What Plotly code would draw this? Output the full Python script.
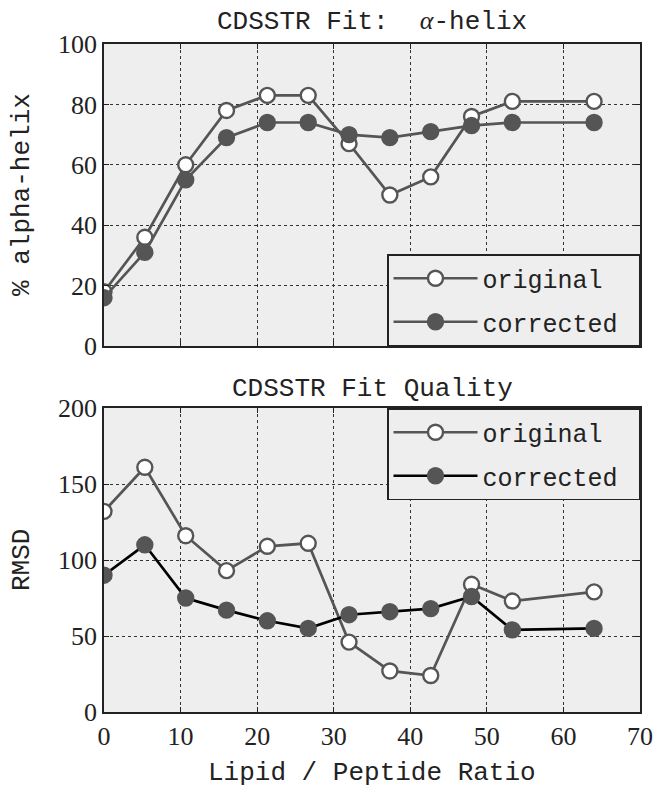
import plotly.graph_objects as go
from plotly.subplots import make_subplots

# ---- data ----
ratio = [0, 5.33, 10.67, 16, 21.33, 26.67, 32, 37.33, 42.67, 48, 53.33, 64]
helix_original = [18, 36, 60, 78, 83, 83, 67, 50, 56, 76, 81, 81]
helix_corrected = [16, 31, 55, 69, 74, 74, 70, 69, 71, 73, 74, 74]
rmsd_original = [132, 161, 116, 93, 109, 111, 46, 27, 24, 84, 73, 79]
rmsd_corrected = [90, 110, 75, 67, 60, 55, 64, 66, 68, 76, 54, 55]
x_ticks = [0, 10, 20, 30, 40, 50, 60, 70]
helix_ticks = [0, 20, 40, 60, 80, 100]
rmsd_ticks = [0, 50, 100, 150, 200]

GRAY = "#555555"
INK = "#222222"
MONO = "Liberation Mono"
SERIF = "Liberation Serif"

W, H = 653, 788
# target positions in window pixels
L_PIX, R_PIX, T_PIX, B_PIX = 104, 640, 44, 712
ML = L_PIX
MR = W - R_PIX
MT = T_PIX
MB = H - B_PIX
pw = W - ML - MR
ph = H - MT - MB

def py(pix):
    return (B_PIX - pix) / ph

def px(pix):
    return (pix - L_PIX) / pw

fig = make_subplots(rows=2, cols=1, vertical_spacing=0.0)

def add(x, y, name, row, line_color, fill, legend, group):
    fig.add_trace(go.Scatter(
        x=x, y=y, name=name, mode="lines+markers",
        line=dict(color=line_color, width=2.7),
        marker=dict(size=15, color=fill, line=dict(color=GRAY, width=2.4)),
        legend=legend, legendgroup=group, showlegend=True), row=row, col=1)

add(ratio, helix_original, "original", 1, GRAY, "white", "legend", "a1")
add(ratio, helix_corrected, "corrected\u00a0", 1, GRAY, GRAY, "legend", "a2")
add(ratio, rmsd_original, "original", 2, GRAY, "white", "legend2", "b1")
add(ratio, rmsd_corrected, "corrected\u00a0", 2, "black", GRAY, "legend2", "b2")

axis_common = dict(
    showline=True, linecolor=INK, linewidth=1.5, mirror="allticks",
    ticks="inside", ticklen=5, tickcolor=INK, automargin=False,
    showgrid=True, gridcolor="#333333", griddash="dot", gridwidth=1,
    zeroline=False, tickfont=dict(family=SERIF, size=26, color=INK),
)

fig.update_xaxes(axis_common)
fig.update_yaxes(axis_common)

legend_common = dict(
    bgcolor="#eeeeee", bordercolor=INK, borderwidth=1.5,
    font=dict(family=MONO, size=25, color=INK), itemwidth=84,
    tracegroupgap=8, xanchor="right", x=1,
)

title_font = dict(family=MONO, size=26, color=INK)

fig.update_layout(
    xaxis=dict(domain=[0, 1], range=[0, 70], tickvals=x_ticks, showticklabels=False),
    xaxis2=dict(domain=[0, 1], range=[0, 70], tickvals=x_ticks),
    yaxis=dict(domain=[py(346), py(44)], range=[0, 100], tickvals=helix_ticks),
    yaxis2=dict(domain=[py(712), py(408)], range=[0, 200], tickvals=rmsd_ticks),
    plot_bgcolor="#eeeeee", paper_bgcolor="white",
    width=W, height=H,
    margin=dict(l=ML, r=MR, t=MT, b=MB, autoexpand=False),
    legend=dict(legend_common, y=py(346), yanchor="bottom"),
    legend2=dict(legend_common, y=py(408), yanchor="top"),
    annotations=[
        dict(text="CDSSTR Fit:\u00a0\u00a0<span style='font-family:Liberation Serif'><i>α</i></span>-helix",
             xref="paper", yref="paper", x=0.5, y=py(22), yanchor="middle",
             showarrow=False, font=title_font),
        dict(text="CDSSTR Fit Quality",
             xref="paper", yref="paper", x=0.5, y=py(389), yanchor="middle",
             showarrow=False, font=title_font),
        dict(text="% alpha-helix", textangle=-90,
             xref="paper", yref="paper", x=px(22), y=py(195), xanchor="center", yanchor="middle",
             showarrow=False, font=title_font),
        dict(text="RMSD", textangle=-90,
             xref="paper", yref="paper", x=px(22), y=py(560), xanchor="center", yanchor="middle",
             showarrow=False, font=title_font),
        dict(text="Lipid / Peptide Ratio",
             xref="paper", yref="paper", x=0.5, y=py(773), yanchor="middle",
             showarrow=False, font=title_font),
    ],
)

fig.write_html(
    "out.html",
    config={"displayModeBar": False},
    post_script="document.body.style.margin='0';document.body.style.overflow='hidden';",
)
